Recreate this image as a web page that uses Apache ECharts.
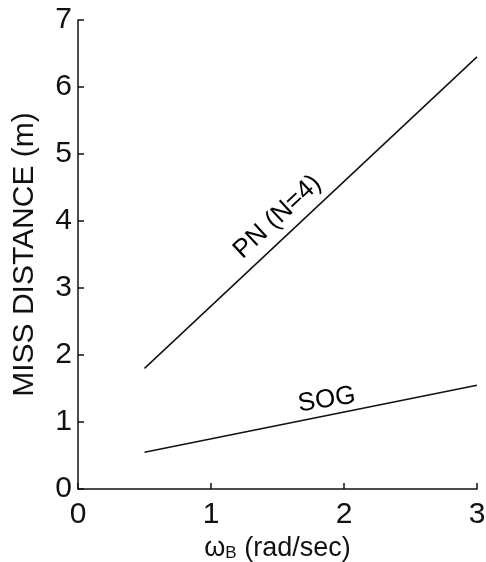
<!DOCTYPE html>
<html>
<head>
<meta charset="utf-8">
<script src="https://cdn.jsdelivr.net/npm/echarts@6/dist/echarts.min.js"></script>
<style>
  html, body { margin: 0; padding: 0; background: #fff; }
  #main { width: 486px; height: 562px; }
</style>
</head>
<body>
<div id="main"></div>
<script>
// data
var omegaB = [0.5, 3];
var pnMiss = [1.8, 6.45];
var sogMiss = [0.55, 1.55];
var xTicks = [0, 1, 2, 3];
var yTicks = [0, 1, 2, 3, 4, 5, 6, 7];
var pnLabelAt = [1.5, 4.06];
var sogLabelAt = [1.87, 1.33];

var font = "Liberation Sans Narrow, Liberation Sans, sans-serif";

function pairs(xs, ys) {
  return xs.map(function (x, i) { return [x, ys[i]]; });
}

// invisible point that only carries a rotated text
function tag(text, at, angle) {
  return {
    type: "scatter",
    data: [at],
    symbolSize: 1,
    itemStyle: { color: "rgba(0,0,0,0)" },
    silent: true,
    label: {
      show: true,
      formatter: text,
      rotate: angle,
      position: "inside",
      color: "#000",
      opacity: 1,
      textBorderWidth: 0,
      fontFamily: font,
      fontSize: 26
    }
  };
}

var chart = echarts.init(document.getElementById("main"));
chart.setOption({
  animation: false,
  grid: { left: 78, right: 9, top: 20, bottom: 73, outerBoundsMode: "none" },
  xAxis: {
    type: "value",
    min: xTicks[0],
    max: xTicks[xTicks.length - 1],
    interval: 1,
    axisLine: { lineStyle: { color: "#111", width: 1.5 } },
    axisTick: { inside: true, length: 6, lineStyle: { color: "#111", width: 1.5 } },
    axisLabel: { color: "#111", fontFamily: font, fontSize: 30, margin: 11 },
    splitLine: { show: false },
    name: "{w|ω}{s|B}{w| (rad/sec)}",
    nameLocation: "middle",
    nameGap: 46,
    nameTextStyle: {
      rich: {
        w: { fontFamily: font, fontSize: 27, color: "#111" },
        s: { fontFamily: font, fontSize: 17, color: "#111", verticalAlign: "bottom", padding: [10, 0, 0, 0] }
      }
    }
  },
  yAxis: {
    type: "value",
    min: yTicks[0],
    max: yTicks[yTicks.length - 1],
    interval: 1,
    axisLine: { show: true, lineStyle: { color: "#111", width: 1.5 } },
    axisTick: { show: true, inside: true, length: 6, lineStyle: { color: "#111", width: 1.5 } },
    axisLabel: { color: "#111", fontFamily: font, fontSize: 30, margin: 6 },
    splitLine: { show: false },
    name: "MISS DISTANCE (m)",
    nameLocation: "middle",
    nameRotate: 90,
    nameGap: 38,
    nameTextStyle: { color: "#111", fontFamily: font, fontSize: 30 }
  },
  series: [
    {
      type: "line",
      data: pairs(omegaB, pnMiss),
      symbol: "none",
      lineStyle: { color: "#111", width: 1.5 }
    },
    {
      type: "line",
      data: pairs(omegaB, sogMiss),
      symbol: "none",
      lineStyle: { color: "#111", width: 1.5 }
    },
    tag("PN (N=4)", pnLabelAt, 43),
    tag("SOG", sogLabelAt, 9)
  ]
});
</script>
</body>
</html>
